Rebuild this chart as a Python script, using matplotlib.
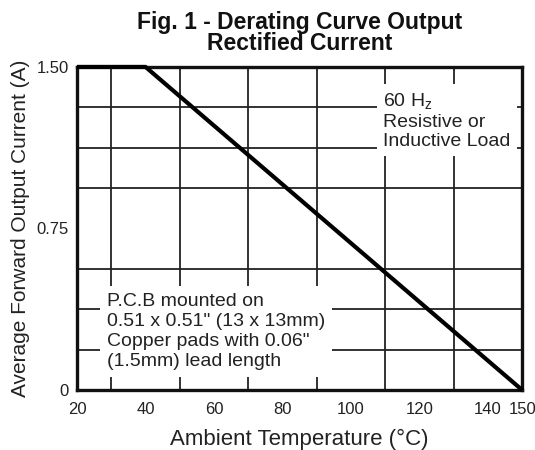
import numpy as np
import matplotlib
matplotlib.use("Agg")
import matplotlib.pyplot as plt

plt.rcParams['font.family'] = ['Liberation Sans', 'DejaVu Sans']

# derating curve
temp = [20, 40, 150]
current = [1.5, 1.5, 0]

x_ticks = [20, 40, 60, 80, 100, 120, 140, 150]
x_grid = np.arange(20, 151, 10)
y_ticks = [0, 0.75, 1.5]
y_tick_labels = ['0', '0.75', '1.50']
y_grid = np.arange(0, 1.51, 0.1875)

note_upper = "60 H$_{\\mathregular{z}}$\nResistive or\nInductive Load"
note_lower = ('P.C.B mounted on\n0.51 x 0.51" (13 x 13mm)\n'
              'Copper pads with 0.06"\n(1.5mm) lead length')


def main():
    fig = plt.figure(figsize=(5.35, 4.5), dpi=100)
    ax = fig.add_axes([0.144, 0.1333, 0.832, 0.718])

    ax.set_xlim(20, 150)
    ax.set_ylim(0, 1.5)

    ax.set_xticks(x_ticks)
    ax.set_yticks(y_ticks)
    ax.set_yticklabels(y_tick_labels)
    ax.set_xticks(x_grid, minor=True)
    ax.set_yticks(y_grid, minor=True)
    ax.tick_params(which='both', length=0, labelsize=12, colors='#222222')
    ax.tick_params(axis='x', pad=8.5)
    ax.tick_params(axis='y', pad=6)
    ax.grid(which='minor', color='#222222', linewidth=1.3)
    ax.set_axisbelow(True)

    for sp in ax.spines.values():
        sp.set_linewidth(2.4)
        sp.set_color('#111111')

    ax.plot(temp, current, color='black', linewidth=3.0, zorder=5,
            solid_capstyle='butt', clip_on=False)

    ax.text(109.4, 1.249, note_upper, fontsize=14, ha='left', va='center',
            linespacing=1.16, color='#222222', zorder=4,
            bbox=dict(facecolor='white', edgecolor='none', pad=4.5))
    ax.text(28.8, 0.272, note_lower, fontsize=14, ha='left', va='center',
            linespacing=1.22, color='#222222', zorder=4,
            bbox=dict(facecolor='white', edgecolor='none', pad=5))

    ax.set_xlabel('Ambient Temperature (°C)', fontsize=16, labelpad=9,
                  color='#222222')
    ax.set_ylabel('Average Forward Output Current (A)', fontsize=15,
                  labelpad=5, color='#222222')
    ax.set_title('Fig. 1 - Derating Curve Output\nRectified Current',
                 fontsize=16.5, fontweight='bold', linespacing=0.88, pad=12,
                 color='#111111')

    fig.savefig('out.png', dpi=100)


if __name__ == '__main__':
    main()
